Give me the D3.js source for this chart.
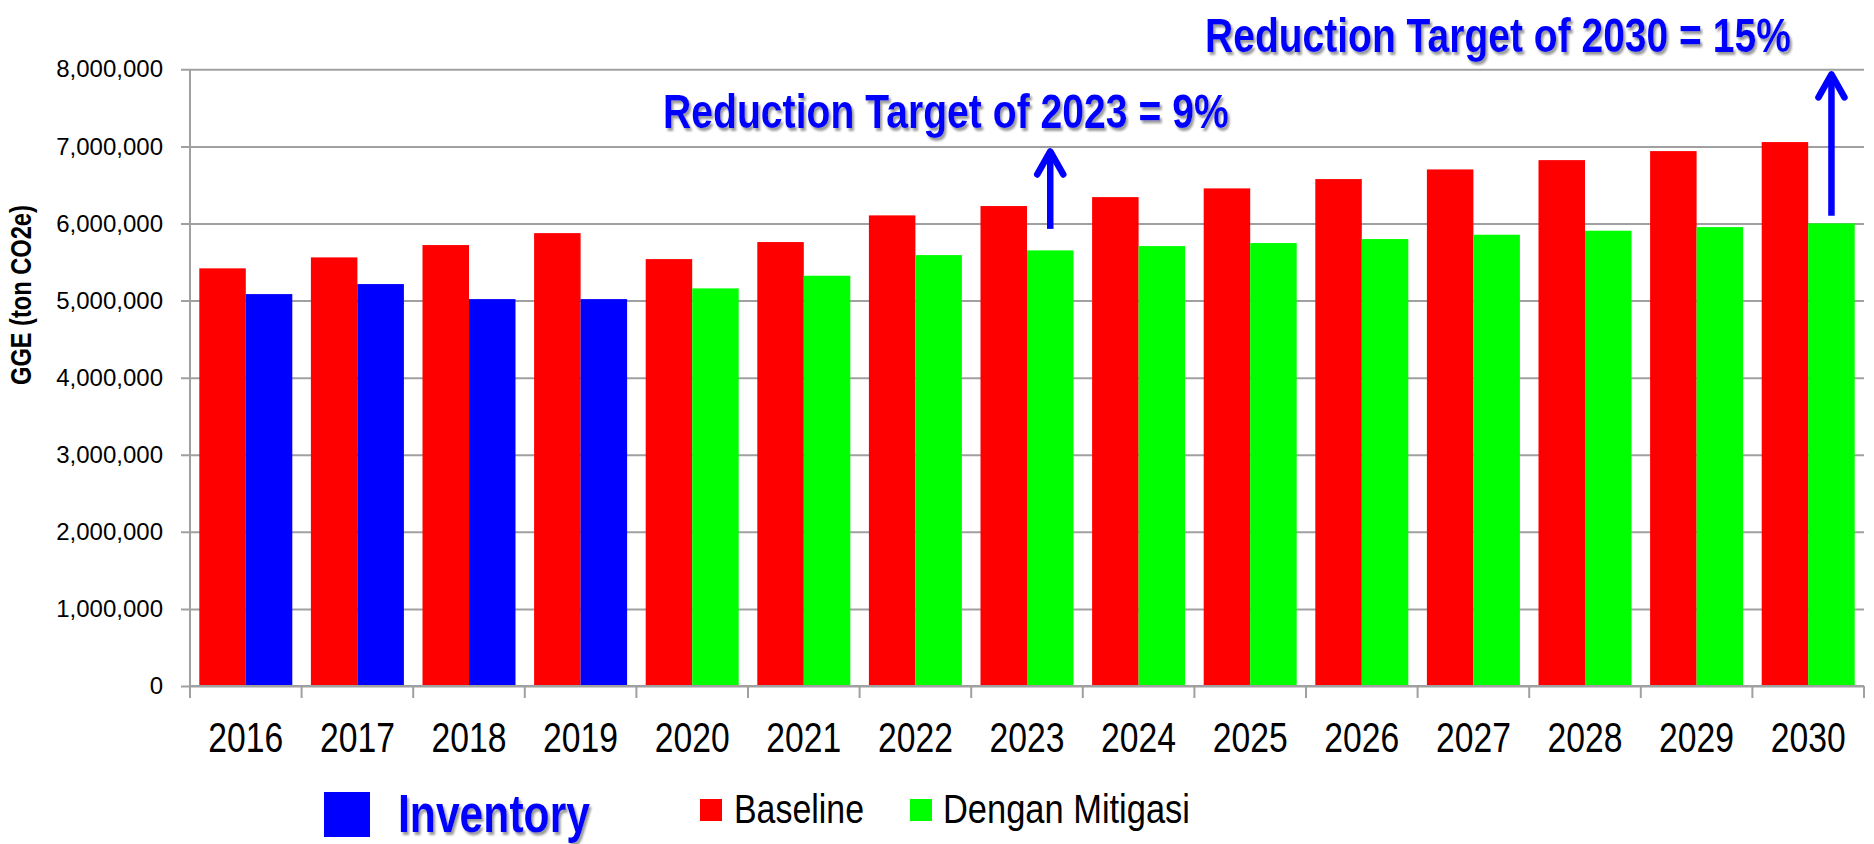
<!DOCTYPE html>
<html>
<head>
<meta charset="utf-8">
<script src="https://cdn.jsdelivr.net/npm/d3@7"></script>
<style>
  body { margin: 0; background: #fff; }
  svg { display: block; }
  .narrow { font-family: "Liberation Sans Narrow", "Arial Narrow", "Liberation Sans", Arial, sans-serif; }
</style>
</head>
<body>
<svg id="chart" width="1874" height="844"></svg>
<script>
var years = ['2016','2017','2018','2019','2020','2021','2022','2023','2024','2025','2026','2027','2028','2029','2030'];
var baseline = [5418000, 5560000, 5720000, 5875000, 5538000, 5759000, 6105000, 6226000, 6342000, 6455000, 6576000, 6701000, 6822000, 6939000, 7056000];
var inventoryYears = ['2016','2017','2018','2019'];
var inventory = [5084000, 5214000, 5019000, 5019000];
var mitigasiYears = ['2020','2021','2022','2023','2024','2025','2026','2027','2028','2029','2030'];
var mitigasi = [5158000, 5322000, 5590000, 5651000, 5707000, 5746000, 5798000, 5854000, 5906000, 5953000, 6001000];
var yTicks = [0, 1000000, 2000000, 3000000, 4000000, 5000000, 6000000, 7000000, 8000000];

// arrows: year, start value, end value
var arrowYears = ['2023', '2030'];
var arrowFrom = [5930000, 6100000];
var arrowTo = [6960000, 7960000];
var targetLabels = ['Reduction Target of 2023 = 9%', 'Reduction Target of 2030 = 15%'];

var svg = d3.select('#chart');

var defs = svg.append('defs');
defs.append('filter')
  .attr('id', 'shadow')
  .attr('x', '-5%').attr('y', '-20%').attr('width', '115%').attr('height', '150%')
  .append('feDropShadow')
  .attr('dx', 2).attr('dy', 3).attr('stdDeviation', 1.2)
  .attr('flood-color', '#7a7a7a').attr('flood-opacity', 0.75);

var x = d3.scaleBand().domain(years).range([190, 1864]).padding(0);
var y = d3.scaleLinear().domain([0, 8000000]).range([686, 69.3]);
var inner = d3.scaleBand().domain(['a','b']).range([0, x.bandwidth()]).paddingOuter(0.2).paddingInner(0);

// no narrow font installed: put text at (px,py) and squeeze it to width w
function narrowText(parent, str, px, py, w, rot) {
  var g = parent.append('g');
  var t = g.append('text').attr('class', 'narrow').text(str);
  var k = w / t.node().getComputedTextLength();
  g.attr('transform', 'translate(' + px + ',' + py + ')' + (rot ? ' rotate(' + rot + ')' : '') + ' scale(' + k + ',1)');
  return t;
}

// gridlines + y labels
var yAxis = d3.axisLeft(y)
  .tickValues(yTicks)
  .tickFormat(d3.format(','))
  .tickSizeInner(-(1864 - 190))
  .tickSizeOuter(0)
  .tickPadding(27);

var gy = svg.append('g').attr('transform', 'translate(190,0)').call(yAxis);
gy.select('.domain').remove();
gy.selectAll('.tick line')
  .attr('x1', -9)
  .attr('stroke', '#a0a0a0')
  .attr('stroke-width', 2);
gy.selectAll('.tick text')
  .style('font-family', '"Liberation Sans", Arial, sans-serif')
  .style('font-size', '24px')
  .attr('fill', '#000');

// y axis line
svg.append('line')
  .attr('x1', 190).attr('x2', 190)
  .attr('y1', y(8000000)).attr('y2', 698)
  .attr('stroke', '#a0a0a0').attr('stroke-width', 2);

// x tick marks at category edges
svg.append('g').selectAll('line')
  .data(years.concat(['end']))
  .enter().append('line')
  .attr('x1', function(d) { return d === 'end' ? 1864 : x(d); })
  .attr('x2', function(d) { return d === 'end' ? 1864 : x(d); })
  .attr('y1', y(0)).attr('y2', 698)
  .attr('stroke', '#a0a0a0').attr('stroke-width', 2);

// bars
svg.append('g').selectAll('rect')
  .data(baseline)
  .enter().append('rect')
  .attr('x', function(d, i) { return x(years[i]) + inner('a'); })
  .attr('y', function(d) { return y(d); })
  .attr('width', inner.bandwidth())
  .attr('height', function(d) { return y(0) - y(d); })
  .attr('fill', '#ff0000');

svg.append('g').selectAll('rect')
  .data(inventory)
  .enter().append('rect')
  .attr('x', function(d, i) { return x(inventoryYears[i]) + inner('b'); })
  .attr('y', function(d) { return y(d); })
  .attr('width', inner.bandwidth())
  .attr('height', function(d) { return y(0) - y(d); })
  .attr('fill', '#0000ff');

svg.append('g').selectAll('rect')
  .data(mitigasi)
  .enter().append('rect')
  .attr('x', function(d, i) { return x(mitigasiYears[i]) + inner('b'); })
  .attr('y', function(d) { return y(d); })
  .attr('width', inner.bandwidth())
  .attr('height', function(d) { return y(0) - y(d); })
  .attr('fill', '#00ff00');

// x axis line
svg.append('line')
  .attr('x1', 190).attr('x2', 1864)
  .attr('y1', y(0)).attr('y2', y(0))
  .attr('stroke', '#a0a0a0').attr('stroke-width', 2);

// x labels
var gx = svg.append('g').style('font-size', '42px').attr('fill', '#000');
years.forEach(function(d) {
  narrowText(gx, d, x(d) + x.bandwidth() / 2 - 37.5, 752, 75);
});

// y title
var gt = svg.append('g').style('font-size', '29px').style('font-weight', 'bold');
narrowText(gt, 'GGE (ton CO2e)', 31, 385, 180, -90);

// arrows
arrowYears.forEach(function(yr, i) {
  var cx = x(yr) + inner('b') + inner.bandwidth() / 2;
  var y0 = y(arrowFrom[i]), y1 = y(arrowTo[i]);
  var g = svg.append('g')
    .attr('stroke', '#0000ff').attr('stroke-width', 6.5)
    .attr('fill', 'none').attr('stroke-linecap', 'round').attr('stroke-linejoin', 'round');
  g.append('line').attr('x1', cx).attr('x2', cx).attr('y1', y0).attr('y2', y1 + 3).attr('stroke-linecap', 'butt');
  g.append('path').attr('d', 'M' + (cx - 13) + ',' + (y1 + 25) + 'L' + cx + ',' + (y1 + 2) + 'L' + (cx + 13) + ',' + (y1 + 25));
});

// target labels
var labelX = [663, 1205], labelY = [128, 52], labelW = [566, 586];
var gl = svg.append('g')
  .style('font-size', '48px').style('font-weight', 'bold')
  .attr('fill', '#0000ff')
  .attr('filter', 'url(#shadow)');
targetLabels.forEach(function(d, i) {
  narrowText(gl, d, labelX[i], labelY[i], labelW[i]);
});

// legend
svg.append('rect').attr('x', 324).attr('y', 792).attr('width', 46).attr('height', 45).attr('fill', '#0000ff');
var gi = svg.append('g')
  .style('font-size', '53px').style('font-weight', 'bold')
  .attr('fill', '#0000ff')
  .attr('filter', 'url(#shadow)');
narrowText(gi, 'Inventory', 398, 832, 192);

svg.append('rect').attr('x', 700).attr('y', 799).attr('width', 22).attr('height', 22).attr('fill', '#ff0000');
var gb = svg.append('g').style('font-size', '40px').attr('fill', '#000');
narrowText(gb, 'Baseline', 734, 823, 130);

svg.append('rect').attr('x', 910).attr('y', 799).attr('width', 22).attr('height', 22).attr('fill', '#00ff00');
var gd = svg.append('g').style('font-size', '41px').attr('fill', '#000');
narrowText(gd, 'Dengan Mitigasi', 943, 823, 247);
</script>
</body>
</html>
